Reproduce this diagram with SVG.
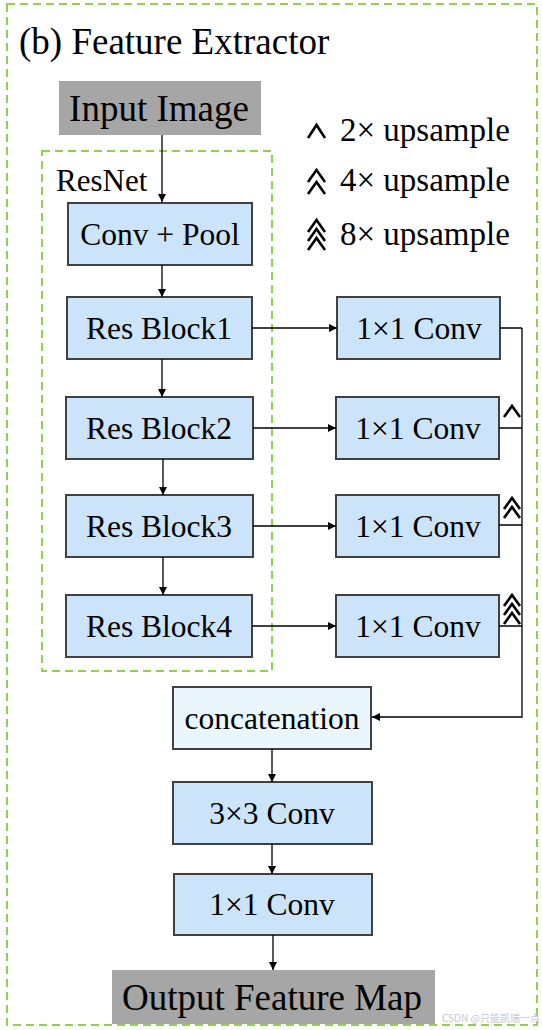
<svg xmlns="http://www.w3.org/2000/svg" width="542" height="1030" viewBox="0 0 542 1030">
<defs>
<style>
.t{font-family:"Liberation Serif","Times New Roman",serif;fill:#000}
.bt{font-size:31.5px;text-anchor:middle}
.box{fill:#cce4fa;stroke:#404040;stroke-width:2}
.cat{fill:#eaf6fd;stroke:#404040;stroke-width:2}
.gray{fill:#a6a6a6}
.dash{fill:none;stroke:#92d050;stroke-width:2;stroke-dasharray:8 5}
.ln{fill:none;stroke:#000;stroke-width:1.3}
.chev{fill:none;stroke:#000;stroke-width:2.6}
</style>
<marker id="ah" viewBox="0 0 10 10" refX="10" refY="5" markerWidth="8" markerHeight="8" markerUnits="userSpaceOnUse" orient="auto">
<path d="M0,0 L10,5 L0,10 Z" fill="#000"/>
</marker>
</defs>
<rect width="542" height="1030" fill="#fff"/>
<rect id="outer" class="dash" x="7" y="4" width="530" height="1021"/>
<text class="t" x="19" y="54" font-size="37">(b) Feature Extractor</text>
<rect id="resnet" class="dash" x="42" y="151" width="230" height="520"/>
<text class="t" x="56" y="191" font-size="31">ResNet</text>

<g id="legend">
<path class="chev" d="M308,138 L316.5,125 L325,138"/>
<text class="t" x="340" y="141" font-size="33">2× upsample</text>
<path class="chev" d="M308,182 L316.5,170 L325,182 M308,194 L316.5,182 L325,194"/>
<text class="t" x="340" y="191" font-size="33">4× upsample</text>
<path class="chev" d="M308,232 L316.5,220 L325,232 M308,241 L316.5,229 L325,241 M308,250 L316.5,238 L325,250"/>
<text class="t" x="340" y="245" font-size="33">8× upsample</text>
</g>

<g id="input"><rect class="gray" x="59" y="81" width="202" height="54"/><text class="t" x="159" y="121" font-size="37" text-anchor="middle">Input Image</text></g>
<g id="convpool"><rect class="box" x="68" y="203" width="184" height="62"/><text class="t bt" x="160" y="245">Conv + Pool</text></g>
<g id="rb1"><rect class="box" x="67" y="297" width="185" height="62"/><text class="t bt" x="159" y="339">Res Block1</text></g>
<g id="rb2"><rect class="box" x="66" y="397" width="187" height="62"/><text class="t bt" x="159" y="439">Res Block2</text></g>
<g id="rb3"><rect class="box" x="66" y="495" width="187" height="62"/><text class="t bt" x="159" y="537">Res Block3</text></g>
<g id="rb4"><rect class="box" x="66" y="595" width="186" height="62"/><text class="t bt" x="159" y="637">Res Block4</text></g>
<g id="c1"><rect class="box" x="337" y="297" width="163" height="62"/><text class="t bt" x="419" y="339">1×1 Conv</text></g>
<g id="c2"><rect class="box" x="336" y="397" width="163" height="62"/><text class="t bt" x="418" y="439">1×1 Conv</text></g>
<g id="c3"><rect class="box" x="336" y="495" width="163" height="62"/><text class="t bt" x="418" y="537">1×1 Conv</text></g>
<g id="c4"><rect class="box" x="336" y="595" width="163" height="62"/><text class="t bt" x="418" y="637">1×1 Conv</text></g>
<g id="concat"><rect class="cat" x="173" y="687" width="198" height="62"/><text class="t bt" x="272" y="729">concatenation</text></g>
<g id="conv33"><rect class="box" x="173" y="782" width="199" height="62"/><text class="t bt" x="272" y="824">3×3 Conv</text></g>
<g id="conv11"><rect class="box" x="174" y="874" width="198" height="61"/><text class="t bt" x="272" y="915">1×1 Conv</text></g>
<g id="output"><rect class="gray" x="112" y="970" width="323" height="54"/><text class="t" x="272" y="1010" font-size="37" text-anchor="middle">Output Feature Map</text></g>

<g id="connectors">
<path class="ln" marker-end="url(#ah)" d="M162,135 V202"/>
<path class="ln" marker-end="url(#ah)" d="M162,265 V297"/>
<path class="ln" marker-end="url(#ah)" d="M162,359 V397"/>
<path class="ln" marker-end="url(#ah)" d="M163,459 V495"/>
<path class="ln" marker-end="url(#ah)" d="M163,557 V595"/>
<path class="ln" marker-end="url(#ah)" d="M252,328 H337"/>
<path class="ln" marker-end="url(#ah)" d="M253,428 H336"/>
<path class="ln" marker-end="url(#ah)" d="M253,526 H336"/>
<path class="ln" marker-end="url(#ah)" d="M252,626 H336"/>
<path class="ln" d="M500,328 H522 M499,428 H522 M499,525 H522 M499,626 H522"/>
<path class="ln" stroke-width="2" marker-end="url(#ah)" d="M522,328 V717 H372"/>
<path class="ln" marker-end="url(#ah)" d="M272,749 V782"/>
<path class="ln" marker-end="url(#ah)" d="M272,844 V874"/>
<path class="ln" marker-end="url(#ah)" d="M273,935 V970"/>
<path class="chev" d="M504,417 L512,406 L520,417"/>
<path class="chev" d="M504,509 L512,498 L520,509 M504,518 L512,507 L520,518"/>
<path class="chev" d="M504,606 L512,595 L520,606 M504,615 L512,604 L520,615 M504,624 L512,613 L520,624"/>
</g>
<text x="442" y="1022" font-family="'Noto Sans CJK SC','Liberation Sans',sans-serif" font-size="10" fill="#c8c8c8">CSDN @只能凯瑞一点</text>
</svg>
